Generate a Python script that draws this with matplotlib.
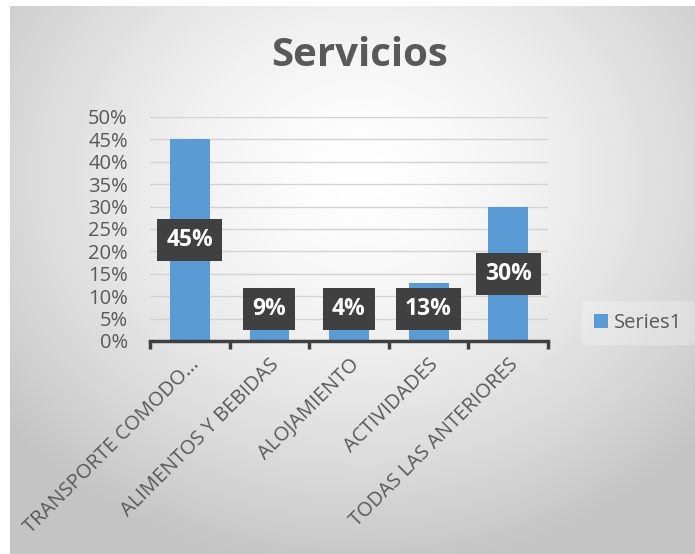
import numpy as np
import matplotlib.pyplot as plt

# datos
categorias = ["TRANSPORTE COMODO...", "ALIMENTOS Y BEBIDAS", "ALOJAMIENTO",
              "ACTIVIDADES", "TODAS LAS ANTERIORES"]
valores = [0.45, 0.09, 0.04, 0.13, 0.30]
etiquetas = ["45%", "9%", "4%", "13%", "30%"]

plt.rcParams["font.family"] = ["Open Sans", "DejaVu Sans"]

W, H = 695, 554
fig = plt.figure(figsize=(W / 100, H / 100), dpi=100)
fig.patch.set_facecolor("white")

# fondo con degradado radial
bg = fig.add_axes([10 / W, 0, (W - 10) / W, (H - 6) / H])
bg.set_axis_off()
yy, xx = np.mgrid[0:548, 0:685]
d = np.sqrt(((xx - 350) / 480.0) ** 2 + ((yy - 170) / 420.0) ** 2)
g = np.clip(1 - 0.25 * d ** 1.5, 0.77, 1.0)
bg.imshow(np.dstack([g, g, g]), aspect="auto", extent=[0, 1, 0, 1])
bg.set_xlim(0, 1)
bg.set_ylim(0, 1)

# área de gráfico
ax = fig.add_axes([150 / W, (H - 341) / H, 398 / W, 224 / H])
ax.patch.set_alpha(0)
x = np.arange(len(categorias))
barras = ax.bar(x, valores, width=0.5, color="#5B9BD5", zorder=2, label="Series1")
ax.set_xlim(-0.5, len(categorias) - 0.5)
ax.set_ylim(0, 0.5)
ax.set_yticks(np.arange(0, 0.51, 0.05))
ax.set_yticklabels([f"{int(round(v * 100))}%" for v in np.arange(0, 0.51, 0.05)],
                   fontsize=14.5, color="#595959")
ax.yaxis.grid(True, color="#d3d3d3", linewidth=1, zorder=0)
ax.tick_params(axis="y", length=0, pad=16)
ax.set_xticks(np.arange(-0.5, len(categorias), 1))
ax.set_xticklabels([])
ax.tick_params(axis="x", direction="out", length=6, width=2.5, color="#404040")
ax.set_xticks(x, minor=True)
ax.set_xticklabels(categorias, minor=True, rotation=45, ha="right",
                   rotation_mode="anchor", fontsize=14.5, color="#595959")
ax.tick_params(axis="x", which="minor", length=0, pad=10)
for s in ["top", "right", "left"]:
    ax.spines[s].set_visible(False)
ax.spines["bottom"].set_color("#404040")
ax.spines["bottom"].set_linewidth(2.5)

# etiquetas de datos
for xi, v, t in zip(x, valores, etiquetas):
    ax.text(xi, max(v / 2, 0.071), t, ha="center", va="center", color="white",
            fontsize=16.5, fontweight="bold", zorder=4,
            bbox=dict(boxstyle="square,pad=0.4", facecolor="#404040",
                      edgecolor="none"))

fig.text(360 / W, 1 - 56 / H, "Servicios", ha="center", va="center",
         fontsize=29, fontweight="bold", color="#595959")

leg = fig.legend(handles=[barras], labels=["Series1"], loc="center left",
                 bbox_to_anchor=(572 / W, 1 - 323 / H), frameon=True,
                 fontsize=14.5, handlelength=0.7, handleheight=0.7,
                 handletextpad=0.3, borderpad=0.6)
leg.get_frame().set_facecolor("white")
leg.get_frame().set_alpha(0.25)
leg.get_frame().set_edgecolor("none")
for t in leg.get_texts():
    t.set_color("#595959")

fig.savefig("out.png", dpi=100)
